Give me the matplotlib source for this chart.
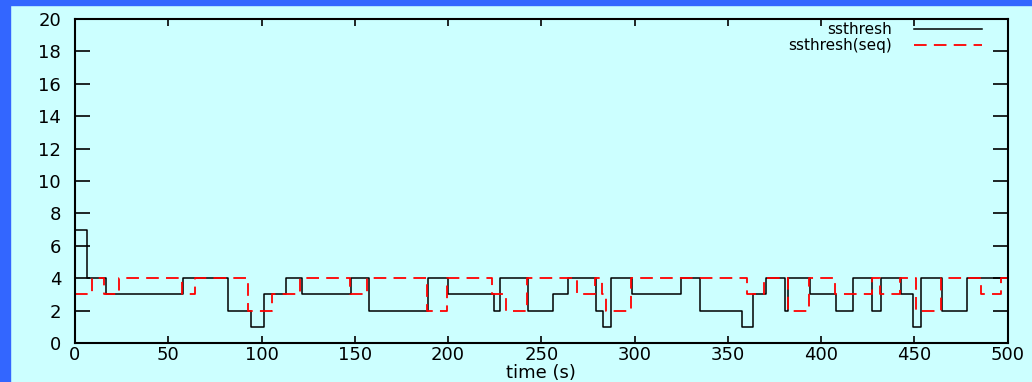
import matplotlib
matplotlib.use('Agg')
import matplotlib.pyplot as plt
from matplotlib.patches import Rectangle
from matplotlib.lines import Line2D

# ssthresh: start time of each step and the value held until the next step
t_main = [0, 6.2, 16.4, 57.8, 81.9, 94.3, 101.4, 113.2, 121.6, 147.9,
          157.4, 189, 199.7, 224.4, 228, 242.7, 256, 264.1, 279.3, 283,
          287.4, 298.6, 325, 334.8, 357.6, 363.4, 370.2, 380.4, 382.2, 393.8,
          407.7, 417.2, 427.1, 432.2, 442.6, 449.4, 453.3, 464.9, 478, 500]
v_main = [7, 4, 3, 4, 2, 1, 3, 4, 3, 4,
          2, 4, 3, 2, 4, 2, 3, 4, 2, 1,
          4, 3, 4, 2, 1, 3, 4, 2, 4, 3,
          2, 4, 2, 4, 3, 1, 4, 2, 4, 4]

# ssthresh(seq)
t_seq = [0, 8.9, 15.7, 23.8, 57.2, 64.4, 93, 105.8, 120.7, 147.5,
         156.8, 188.6, 199.4, 223.5, 231.2, 242.3, 269.1, 278.9, 282.5, 284.6,
         298.1, 360, 369.6, 382.4, 393.4, 407.2, 427.4, 431.3, 442.2, 450.6,
         464, 485.9, 496.2, 500]
v_seq = [3, 4, 3, 4, 3, 4, 2, 3, 4, 3,
         4, 2, 4, 3, 2, 4, 3, 4, 3, 2,
         4, 3, 4, 2, 4, 3, 4, 3, 4, 2,
         4, 3, 4, 4]

labels = ['ssthresh', 'ssthresh(seq)']
x_ticks = list(range(0, 501, 50))
y_ticks = list(range(0, 21, 2))

bg = '#ccffff'
border = '#3366ff'

plt.rcParams['font.family'] = 'DejaVu Sans'

fig = plt.figure(figsize=(10.32, 3.82), dpi=100, facecolor=bg)
# blue frame strips on top and left edge
fig.patches.append(Rectangle((0, 0), 10 / 1032, 1, transform=fig.transFigure,
                             color=border, zorder=0))
fig.patches.append(Rectangle((0, 1 - 5 / 382), 1, 5 / 382, transform=fig.transFigure,
                             color=border, zorder=0))

ax = fig.add_axes([75 / 1032, 39 / 382, 932.7 / 1032, 324 / 382])
ax.set_facecolor(bg)

ax.plot(t_main, v_main, drawstyle='steps-post', color='black', lw=1.1)
ax.plot(t_seq, v_seq, drawstyle='steps-post', color='red', lw=1.3, dashes=(7, 4))

ax.set_xlim(0, 500)
ax.set_ylim(0, 20)
ax.set_xticks(x_ticks)
ax.set_yticks(y_ticks)
ax.tick_params(axis='both', direction='in', top=True, right=True,
               labelsize=13, color='black', width=1.2)
ax.tick_params(axis='y', length=10.5, pad=10)
ax.tick_params(axis='x', length=5, pad=2)
for s in ax.spines.values():
    s.set_linewidth(1.5)

ax.set_xlabel('time (s)', fontsize=13, labelpad=0)

# gnuplot style key: right aligned text, line sample to its right
key_y = [0.969, 0.919]
key_styles = [dict(color='black', lw=1.1), dict(color='red', lw=1.3, dashes=(7, 4))]
for lab, ky, st in zip(labels, key_y, key_styles):
    ax.text(0.876, ky, lab, transform=ax.transAxes, ha='right', va='center', fontsize=11)
    ax.add_line(Line2D([0.9, 0.972], [ky, ky], transform=ax.transAxes, **st))

fig.savefig('out.png', dpi=100, facecolor=bg)
